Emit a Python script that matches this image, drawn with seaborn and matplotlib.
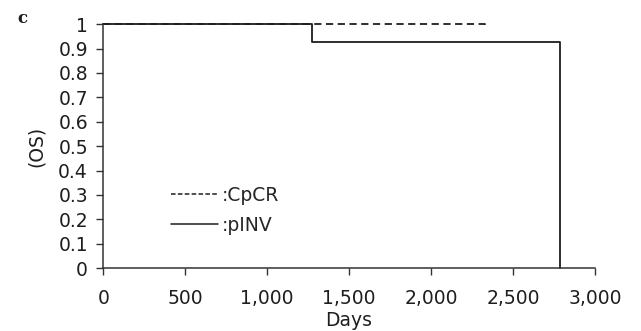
import numpy as np
import pandas as pd
import matplotlib
matplotlib.use("Agg")
import matplotlib.pyplot as plt
import seaborn as sns
from matplotlib.lines import Line2D
from matplotlib.ticker import FuncFormatter

# step points
cpcr_days = [0, 1275, 2330]
cpcr_os = [1.0, 1.0, 0.997]
pinv_days = [0, 1275, 2790]
pinv_os = [1.0, 0.925, 0.0]

x_ticks = [0, 500, 1000, 1500, 2000, 2500, 3000]
y_ticks = [0, 0.1, 0.2, 0.3, 0.4, 0.5, 0.6, 0.7, 0.8, 0.9, 1]

df = pd.concat([
    pd.DataFrame({"Days": cpcr_days, "OS": cpcr_os, "group": "CpCR"}),
    pd.DataFrame({"Days": pinv_days, "OS": pinv_os, "group": "pINV"}),
])

sns.set_style("ticks")
plt.rcParams['font.family'] = ['DejaVu Sans']

ink = "#1e1e1e"
fs = 13.5

fig = plt.figure(figsize=(6.41, 3.31), dpi=100)
ax = fig.add_axes([0.161, 0.190, 0.767, 0.737])

sns.lineplot(data=df[df.group == "pINV"], x="Days", y="OS", ax=ax,
             estimator=None, sort=False, drawstyle="steps-post",
             color=ink, linewidth=1.3, clip_on=False)
sns.lineplot(data=df[df.group == "CpCR"], x="Days", y="OS", ax=ax,
             estimator=None, sort=False, drawstyle="steps-post",
             color=ink, linewidth=1.3, dashes=False, clip_on=False)
ax.lines[-1].set_dashes([4, 2.5])

ax.set_xlim(0, 3000)
ax.set_ylim(0, 1)
ax.set_xticks(x_ticks)
ax.set_yticks(y_ticks)
ax.xaxis.set_major_formatter(FuncFormatter(lambda v, p: f"{int(v):,}"))
ax.yaxis.set_major_formatter(FuncFormatter(lambda v, p: "0" if v == 0 else ("1" if v == 1 else f"{v:.1f}")))
ax.tick_params(axis="both", direction="out", length=5, width=1, color="#333333",
               labelsize=fs, labelcolor=ink)
ax.tick_params(axis="x", pad=10)
ax.tick_params(axis="y", pad=6)
for s in ["top", "right"]:
    ax.spines[s].set_visible(False)
for s in ["left", "bottom"]:
    ax.spines[s].set_color("#333333")
    ax.spines[s].set_linewidth(1.1)

ax.set_xlabel("Days", fontsize=fs, color=ink, labelpad=2)
ax.set_ylabel("(OS)", fontsize=fs, color=ink, labelpad=9)

handles = [Line2D([], [], color=ink, lw=1.1, ls=(0, (3, 1.5))),
           Line2D([], [], color=ink, lw=1.1)]
ax.legend(handles, [":CpCR", ":pINV"], loc="lower left", bbox_to_anchor=(0.104, 0.067),
          frameon=False, fontsize=fs, handlelength=2.5, handletextpad=0.2,
          labelspacing=0.6)

fig.text(0.027, 0.93, "c", fontsize=12, fontweight="bold", family="DejaVu Serif",
         color=ink, va="baseline")

fig.savefig("out.png", dpi=100)
